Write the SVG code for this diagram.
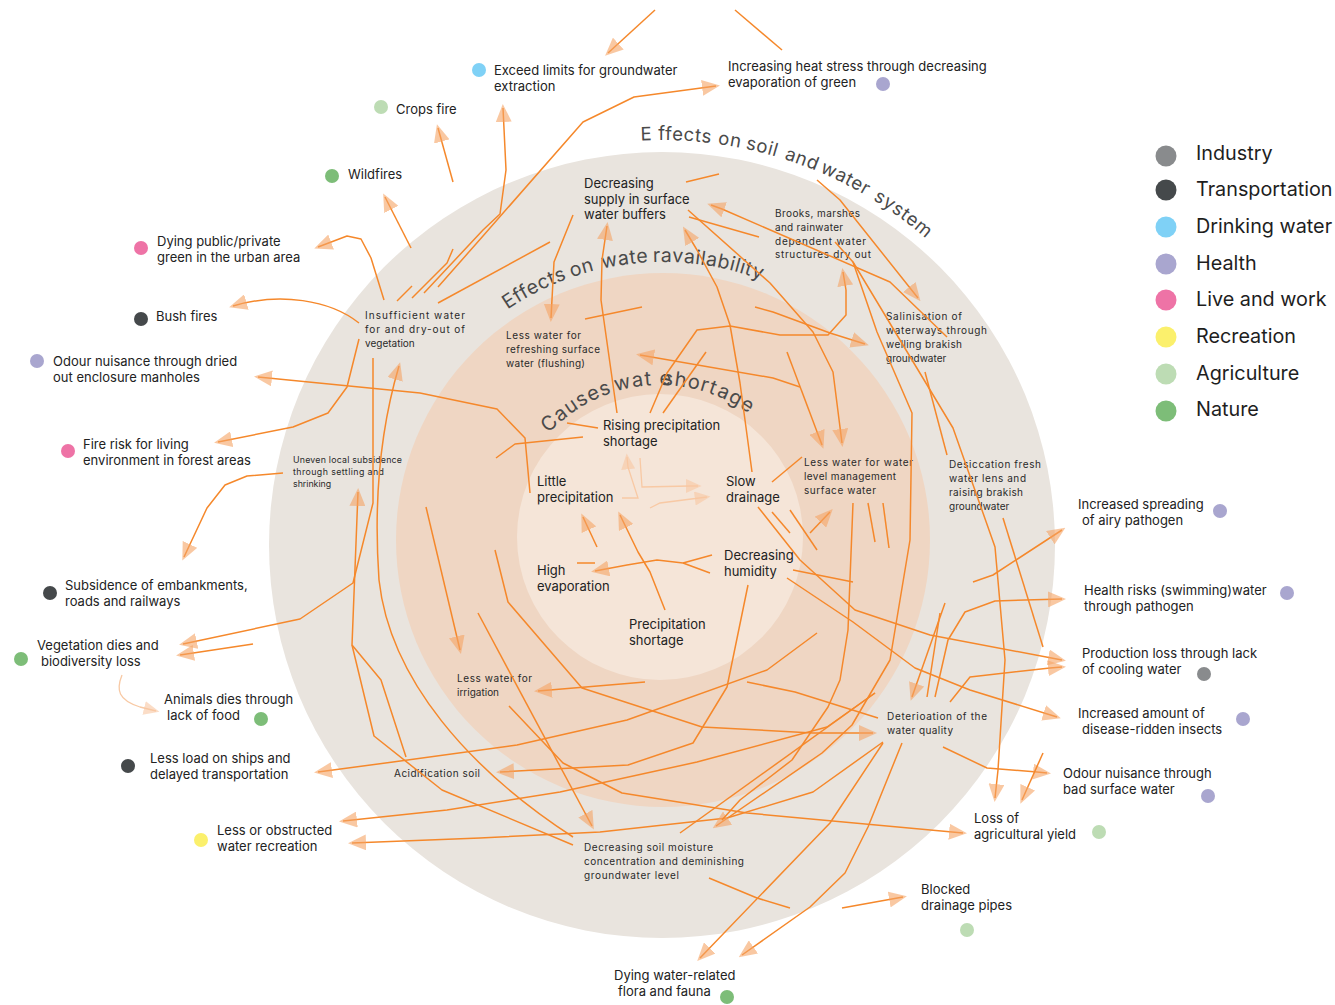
<svg xmlns="http://www.w3.org/2000/svg" width="1335" height="1005" viewBox="0 0 1335 1005">
<style>
.t{font-family:Inter,"Noto Sans","Liberation Sans",sans-serif;font-size:13px;fill:#222}
.s{font-family:Inter,"Noto Sans","Liberation Sans",sans-serif;font-size:10px;fill:#2a2a2a}
.xs{font-family:Inter,"Noto Sans","Liberation Sans",sans-serif;font-size:8.8px;fill:#2a2a2a}
.lg{font-family:Inter,"Noto Sans","Liberation Sans",sans-serif;font-size:19.8px;fill:#1e1e1e}
.ti{font-family:Inter,"Noto Sans","Liberation Sans",sans-serif;fill:#4a4a4a}
.to{font-size:18.5px;letter-spacing:0.6px}
.tm{font-size:19.5px;letter-spacing:0.5px}
.tc{font-size:20px;letter-spacing:1px}
.ln{fill:none;stroke:#f5882b;stroke-width:1.5;stroke-linejoin:round}
.a{marker-end:url(#ah)}
.pl{fill:none;stroke:#f8c9a4;stroke-width:1.3;marker-end:url(#ahp)}
.ind{fill:#898b8d}.tra{fill:#45494b}.dri{fill:#7fd1f6}.hea{fill:#a9a6cf}.liv{fill:#ee73a6}.rec{fill:#fbf06c}.agr{fill:#bddcb4}.nat{fill:#7dbd78}
</style>
<defs>
<marker id="ah" viewBox="0 0 18 16" refX="14" refY="8" markerWidth="18" markerHeight="16" markerUnits="userSpaceOnUse" orient="auto"><path d="M0,0 L18,8 L0,16 z" fill="#f5a464" fill-opacity="0.6"/></marker>
<marker id="ahp" viewBox="0 0 18 16" refX="14" refY="8" markerWidth="16" markerHeight="14" markerUnits="userSpaceOnUse" orient="auto"><path d="M0,0 L18,8 L0,16 z" fill="#f8c7a2" fill-opacity="0.6"/></marker>
<path id="arcO" d="M640.8,140.6 A405,405 0 0 1 972,285"/>
<path id="arcM" d="M507.5,309.5 A278,278 0 0 1 802,299.2"/>
<path id="arcI" d="M548.8,433.3 A152,152 0 0 1 776.4,439.3"/>
</defs>
<rect width="1335" height="1005" fill="#ffffff"/>
<g id="rings">
<circle cx="662" cy="545" r="393" fill="#e9e4de"/>
<circle cx="663" cy="540" r="267" fill="#efd6c3"/>
<circle cx="660" cy="537" r="143" fill="#f5e5d8"/>
</g>
<g id="titles">
<text class="ti to"><textPath href="#arcO">E ffects</textPath></text>
<text class="ti to"><textPath href="#arcO" startOffset="77">on</textPath></text>
<text class="ti to"><textPath href="#arcO" startOffset="105">soil</textPath></text>
<text class="ti to"><textPath href="#arcO" startOffset="145">and</textPath></text>
<text class="ti to"><textPath href="#arcO" startOffset="183">water</textPath></text>
<text class="ti to"><textPath href="#arcO" startOffset="243">system</textPath></text>
<text class="ti tm"><textPath href="#arcM">Effects</textPath></text>
<text class="ti tm"><textPath href="#arcM" startOffset="72">on</textPath></text>
<text class="ti tm"><textPath href="#arcM" startOffset="104">wate</textPath></text>
<text class="ti tm"><textPath href="#arcM" startOffset="155">ravailability</textPath></text>
<text class="ti tc"><textPath href="#arcI">Causes</textPath></text>
<text class="ti tc"><textPath href="#arcI" startOffset="80">wat</textPath></text>
<text class="ti tc"><textPath href="#arcI" startOffset="124">e</textPath></text>
<text class="ti tc"><textPath href="#arcI" startOffset="127">short</textPath></text>
<text class="ti tc"><textPath href="#arcI" startOffset="182">age</textPath></text>
</g>
<g id="legend">
<circle class="ind" cx="1166" cy="156" r="10.5"/><text class="lg" x="1196" y="160">Industry</text>
<circle class="tra" cx="1166" cy="190" r="10.5"/><text class="lg" x="1196" y="196">Transportation</text>
<circle class="dri" cx="1166" cy="227" r="10.5"/><text class="lg" x="1196" y="233">Drinking water</text>
<circle class="hea" cx="1166" cy="264" r="10.5"/><text class="lg" x="1196" y="270">Health</text>
<circle class="liv" cx="1166" cy="300" r="10.5"/><text class="lg" x="1196" y="306">Live and work</text>
<circle class="rec" cx="1166" cy="337" r="10.5"/><text class="lg" x="1196" y="343">Recreation</text>
<circle class="agr" cx="1166" cy="374" r="10.5"/><text class="lg" x="1196" y="380">Agriculture</text>
<circle class="nat" cx="1166" cy="411" r="10.5"/><text class="lg" x="1196" y="416">Nature</text>
</g>
<g id="n-exceed"><circle class="dri" cx="479" cy="70" r="7"/><text class="t"><tspan x="494" y="75">Exceed limits for groundwater</tspan><tspan x="494" y="91">extraction</tspan></text></g>
<g id="n-heat"><text class="t"><tspan x="728" y="71">Increasing heat stress through decreasing</tspan><tspan x="728" y="87">evaporation of green</tspan></text><circle class="hea" cx="883" cy="84" r="7"/></g>
<g id="n-crops"><circle class="agr" cx="381" cy="107" r="7"/><text class="t" x="396" y="114">Crops fire</text></g>
<g id="n-wildfires"><circle class="nat" cx="332" cy="176" r="7"/><text class="t" x="348" y="179">Wildfires</text></g>
<g id="n-dying-green"><circle class="liv" cx="141" cy="248" r="7"/><text class="t"><tspan x="157" y="246">Dying public/private</tspan><tspan x="157" y="262">green in the urban area</tspan></text></g>
<g id="n-bush"><circle class="tra" cx="141" cy="319" r="7"/><text class="t" x="156" y="321">Bush fires</text></g>
<g id="n-odour-dried"><circle class="hea" cx="37" cy="361" r="7"/><text class="t"><tspan x="53" y="366">Odour nuisance through dried</tspan><tspan x="53" y="382">out enclosure manholes</tspan></text></g>
<g id="n-fire-risk"><circle class="liv" cx="68" cy="451" r="7"/><text class="t"><tspan x="83" y="449">Fire risk for living</tspan><tspan x="83" y="465">environment in forest areas</tspan></text></g>
<g id="n-subsidence"><circle class="tra" cx="50" cy="593" r="7"/><text class="t"><tspan x="65" y="590">Subsidence of embankments,</tspan><tspan x="65" y="606">roads and railways</tspan></text></g>
<g id="n-vegetation"><circle class="nat" cx="21" cy="659" r="7"/><text class="t"><tspan x="37" y="650">Vegetation dies and</tspan><tspan x="41" y="666">biodiversity loss</tspan></text></g>
<g id="n-animals"><text class="t"><tspan x="164" y="704">Animals dies through</tspan><tspan x="167" y="720">lack of food</tspan></text><circle class="nat" cx="261" cy="719" r="7"/></g>
<g id="n-ships"><circle class="tra" cx="128" cy="766" r="7"/><text class="t"><tspan x="150" y="763">Less load on ships and</tspan><tspan x="150" y="779">delayed transportation</tspan></text></g>
<g id="n-recreation"><circle class="rec" cx="201" cy="840" r="7"/><text class="t"><tspan x="217" y="835">Less or obstructed</tspan><tspan x="217" y="851">water recreation</tspan></text></g>
<g id="n-flora"><text class="t"><tspan x="614" y="980">Dying water-related</tspan><tspan x="618" y="996">flora and fauna</tspan></text><circle class="nat" cx="727" cy="997" r="7"/></g>
<g id="n-blocked"><text class="t"><tspan x="921" y="894">Blocked</tspan><tspan x="921" y="910">drainage pipes</tspan></text><circle class="agr" cx="967" cy="930" r="7"/></g>
<g id="n-yield"><text class="t"><tspan x="974" y="823">Loss of</tspan><tspan x="974" y="839">agricultural yield</tspan></text><circle class="agr" cx="1099" cy="832" r="7"/></g>
<g id="n-odour-water"><text class="t"><tspan x="1063" y="778">Odour nuisance through</tspan><tspan x="1063" y="794">bad surface water</tspan></text><circle class="hea" cx="1208" cy="796" r="7"/></g>
<g id="n-insects"><text class="t"><tspan x="1078" y="718">Increased amount of</tspan><tspan x="1082" y="734">disease-ridden insects</tspan></text><circle class="hea" cx="1243" cy="719" r="7"/></g>
<g id="n-production"><text class="t"><tspan x="1082" y="658">Production loss through lack</tspan><tspan x="1082" y="674">of cooling water</tspan></text><circle class="ind" cx="1204" cy="674" r="7"/></g>
<g id="n-health-risks"><text class="t"><tspan x="1084" y="595">Health risks (swimming)water</tspan><tspan x="1084" y="611">through pathogen</tspan></text><circle class="hea" cx="1287" cy="593" r="7"/></g>
<g id="n-spreading"><text class="t"><tspan x="1078" y="509">Increased spreading</tspan><tspan x="1082" y="525">of airy pathogen</tspan></text><circle class="hea" cx="1220" cy="511" r="7"/></g>
<g id="n-insufficient"><text class="s" x="365" y="319" textLength="100" lengthAdjust="spacing">Insufficient    water</text><text class="s" x="365" y="333" textLength="100" lengthAdjust="spacing">for and dry-out of</text><text class="s" x="365" y="347">vegetation</text></g>
<g id="n-uneven"><text class="xs" x="293" y="463" textLength="109" lengthAdjust="spacing">Uneven local subsidence</text><text class="xs" x="293" y="475" textLength="91" lengthAdjust="spacing">through settling and</text><text class="xs" x="293" y="487">shrinking</text></g>
<g id="n-supply"><text class="t"><tspan x="584" y="188">Decreasing</tspan><tspan x="584" y="204">supply in surface</tspan><tspan x="584" y="219">water buffers</tspan></text></g>
<g id="n-brooks"><text class="s" x="775" y="217" textLength="85" lengthAdjust="spacing">Brooks, marshes</text><text class="s" x="775" y="231" textLength="68" lengthAdjust="spacing">and rainwater</text><text class="s" x="775" y="245" textLength="91" lengthAdjust="spacing">dependent  water</text><text class="s" x="775" y="258" textLength="96" lengthAdjust="spacing">structures dry out</text></g>
<g id="n-refreshing"><text class="s" x="506" y="339" textLength="75" lengthAdjust="spacing">Less water for</text><text class="s" x="506" y="353" textLength="94" lengthAdjust="spacing">refreshing surface</text><text class="s" x="506" y="367" textLength="79" lengthAdjust="spacing">water (flushing)</text></g>
<g id="n-salinisation"><text class="s" x="886" y="320" textLength="76" lengthAdjust="spacing">Salinisation  of</text><text class="s" x="886" y="334" textLength="101" lengthAdjust="spacing">waterways through</text><text class="s" x="886" y="348" textLength="76" lengthAdjust="spacing">welling brakish</text><text class="s" x="886" y="362">groundwater</text></g>
<g id="n-rising"><text class="t"><tspan x="603" y="430">Rising precipitation</tspan><tspan x="603" y="446">shortage</tspan></text></g>
<g id="n-little"><text class="t"><tspan x="537" y="486">Little</tspan><tspan x="537" y="502">precipitation</tspan></text></g>
<g id="n-slow"><text class="t"><tspan x="726" y="486">Slow</tspan><tspan x="726" y="502">drainage</tspan></text></g>
<g id="n-high-evap"><text class="t"><tspan x="537" y="575">High</tspan><tspan x="537" y="591">evaporation</tspan></text></g>
<g id="n-humidity"><text class="t"><tspan x="724" y="560">Decreasing</tspan><tspan x="724" y="576">humidity</tspan></text></g>
<g id="n-precip-short"><text class="t"><tspan x="629" y="629">Precipitation</tspan><tspan x="629" y="645">shortage</tspan></text></g>
<g id="n-level"><text class="s" x="804" y="466" textLength="109" lengthAdjust="spacing">Less water for water</text><text class="s" x="804" y="480" textLength="92" lengthAdjust="spacing">level management</text><text class="s" x="804" y="494" textLength="72" lengthAdjust="spacing">surface  water</text></g>
<g id="n-desiccation"><text class="s" x="949" y="468" textLength="92" lengthAdjust="spacing">Desiccation  fresh</text><text class="s" x="949" y="482" textLength="77" lengthAdjust="spacing">water lens and</text><text class="s" x="949" y="496" textLength="74" lengthAdjust="spacing">raising brakish</text><text class="s" x="949" y="510">groundwater</text></g>
<g id="n-irrigation"><text class="s" x="457" y="682" textLength="75" lengthAdjust="spacing">Less water for</text><text class="s" x="457" y="696">irrigation</text></g>
<g id="n-acid"><text class="s" x="394" y="777" textLength="86" lengthAdjust="spacing">Acidification  soil</text></g>
<g id="n-deterioration"><text class="s" x="887" y="720" textLength="100" lengthAdjust="spacing">Deterioation of the</text><text class="s" x="887" y="734" textLength="66" lengthAdjust="spacing">water  quality</text></g>
<g id="n-soil-moisture"><text class="s" x="584" y="851" textLength="129" lengthAdjust="spacing">Decreasing soil moisture</text><text class="s" x="584" y="865" textLength="160" lengthAdjust="spacing">concentration and deminishing</text><text class="s" x="584" y="879" textLength="95" lengthAdjust="spacing">groundwater  level</text></g>
<g id="connectors">
<path class="ln a" d="M655,10 L608,53"/>
<path class="ln" d="M735,10 L782,50"/>
<path class="ln a" d="M438,287 L483,236 L583,122 L634,97 L716,86"/>
<path class="ln a" d="M424,293 L483,230 L500,214 L506,170 L503,108"/>
<path class="ln a" d="M453,182 L438,128"/>
<path class="ln a" d="M411,248 L385,197"/>
<path class="ln a" d="M384,300 L371,258 L361,239 L347,236 L318,247"/>
<path class="ln a" d="M359,323 C330,300 280,292 233,306"/>
<path class="ln a" d="M359,339 L347,387 L328,413 L293,427 L218,442"/>
<path class="ln a" d="M530,493 L525,438 L497,409 L420,393 L258,377"/>
<path class="ln" d="M397,301 L412,286"/>
<path class="ln" d="M412,298 L447,263 L453,249"/>
<path class="ln" d="M438,303 L550,242"/>
<path class="ln a" d="M373,358 L373,503 L353,583 L300,619 L183,644"/>
<path class="ln a" d="M253,644 L180,655"/>
<path class="pl" d="M122,675 C116,690 118,700 140,707 L156,711"/>
<path class="ln a" d="M283,473 L247,476 L225,485 L207,508 L184,557"/>
<path class="ln a" d="M573,845 L442,790 L374,736 L352,645 L358,492"/>
<path class="ln" d="M406,757 L381,680 L352,645"/>
<path class="ln a" d="M573,837 C470,770 390,680 379,580 C372,480 386,410 399,366"/>
<path class="ln a" d="M426,507 L460,650"/>
<path class="ln a" d="M645,682 L538,691"/>
<path class="ln a" d="M495,550 L508,602 L582,688 L702,727 L813,733 L873,733"/>
<path class="ln a" d="M478,613 L592,826"/>
<path class="ln a" d="M509,706 L563,763 L622,793 L747,813 L963,833"/>
<path class="ln a" d="M748,585 L727,687 L693,743 L628,765 L500,772"/>
<path class="ln a" d="M817,633 L767,670 L627,720 L517,745 L393,762 L318,772"/>
<path class="ln a" d="M875,693 L827,727 L697,762 L560,792 L447,810 L343,821"/>
<path class="ln a" d="M883,742 L813,792 L727,818 L600,832 L480,838 L352,843"/>
<path class="ln" d="M680,833 L875,693"/>
<path class="ln" d="M747,682 L795,692 L878,718"/>
<path class="ln" d="M709,878 L757,898 L790,908"/>
<path class="ln a" d="M842,908 L903,897"/>
<path class="ln a" d="M883,743 L830,823 L700,958"/>
<path class="ln a" d="M902,743 L868,827 L845,873 L810,907 L742,955"/>
<path class="ln a" d="M835,242 L853,262 L877,332 L912,413 L910,540 L890,660 L852,725 L822,753 L716,826"/>
<path class="ln" d="M853,503 L848,630 L840,680 L828,707 L792,760 L740,800 L722,820"/>
<path class="ln a" d="M688,210 L770,283 L813,332 L833,372 L842,443"/>
<path class="ln a" d="M752,472 L740,383 L730,325 L717,287 L697,250 L685,230"/>
<path class="ln a" d="M617,413 L601,300 L602,260 L607,226"/>
<path class="ln a" d="M650,413 L667,373 L697,330 L730,326 L780,335 L828,335 L846,315 L846,290 L843,272"/>
<path class="ln" d="M663,413 L706,352"/>
<path class="ln a" d="M800,387 L773,378 L640,355"/>
<path class="ln a" d="M787,352 L822,445"/>
<path class="ln a" d="M755,307 L773,312 L830,333 L865,344"/>
<path class="ln" d="M585,319 L642,307"/>
<path class="ln a" d="M573,215 L554,262 L551,318"/>
<path class="ln" d="M686,182 L719,174"/>
<path class="ln" d="M689,217 L759,237"/>
<path class="ln a" d="M947,337 L890,282 L722,209 L711,205"/>
<path class="ln a" d="M817,180 L840,200 L918,298"/>
<path class="ln" d="M925,372 L947,455"/>
<path class="ln a" d="M853,262 L953,428 L995,547 L1005,660 L998,770 L995,798"/>
<path class="ln" d="M1003,518 L1043,647"/>
<path class="ln a" d="M973,582 L993,575 L1062,530"/>
<path class="ln a" d="M935,697 L948,640 L965,612 L995,601 L1062,599"/>
<path class="ln a" d="M945,603 L912,697"/>
<path class="ln" d="M927,697 L940,613"/>
<path class="ln a" d="M758,507 L800,560 L855,610 L930,635 L1062,660"/>
<path class="ln a" d="M950,702 L970,677 L1050,668 L1062,667"/>
<path class="ln a" d="M787,578 L853,622 L915,668 L970,690 L1057,717"/>
<path class="ln a" d="M943,747 L987,768 L1037,772 L1047,773"/>
<path class="ln a" d="M1043,753 L1022,800"/>
<path class="ln" d="M772,482 L802,457"/>
<path class="ln" d="M772,512 L790,533"/>
<path class="ln" d="M790,510 L817,550"/>
<path class="ln a" d="M810,533 L830,512"/>
<path class="ln" d="M868,503 L875,542"/>
<path class="ln" d="M883,503 L889,548"/>
<path class="ln" d="M793,570 L853,582"/>
<path class="ln" d="M496,458 L515,444 L583,437"/>
<path class="ln" d="M567,423 L598,428"/>
<path class="ln a" d="M597,547 L583,517"/>
<path class="ln a" d="M665,610 L650,572 L638,552 L620,515"/>
<path class="ln a" d="M710,573 L683,563 L657,560 L627,565 L595,571"/>
<path class="ln" d="M683,563 L712,555"/>
<path class="ln" d="M577,563 L595,563"/>
<path class="pl" d="M640,458 L642,487 L690,486 L698,486"/>
<path class="pl" d="M622,498 L638,498 L628,467 L627,457"/>
<path class="pl" d="M650,508 L660,503 L707,497"/>
</g>
</svg>
